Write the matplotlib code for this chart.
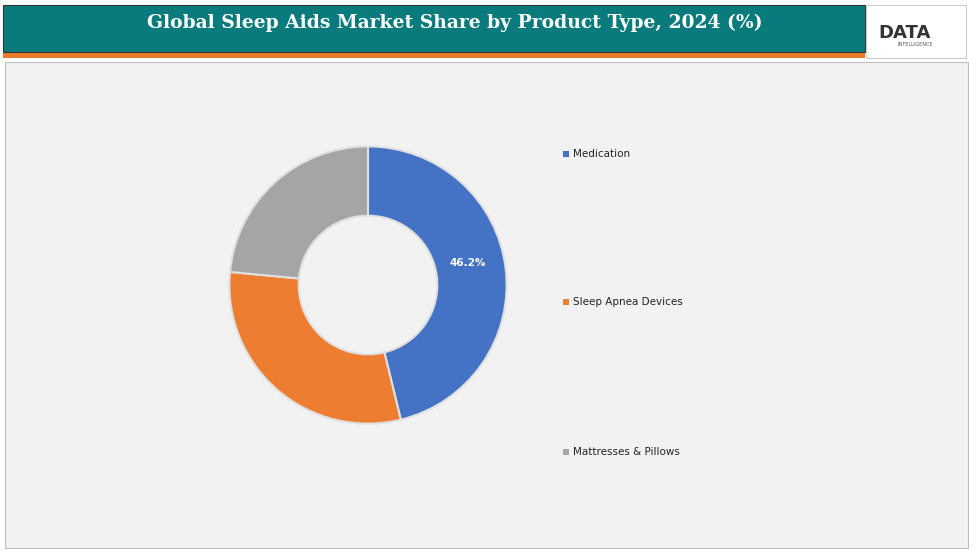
import matplotlib.pyplot as plt
from matplotlib.patches import Rectangle

labels = ['Medication', 'Sleep Apnea Devices', 'Mattresses & Pillows']
shares = [46.2, 30.3, 23.5]
colors = ['#4472C4', '#ED7D31', '#A5A5A5']

fig = plt.figure(figsize=(9.79, 5.52), dpi=100)
W, H = 979, 552

def box(x, y, w, h, **kw):
    fig.patches.append(Rectangle((x / W, 1 - (y + h) / H), w / W, h / H,
                                 transform=fig.transFigure, zorder=0, **kw))

# header
box(3, 5, 862, 47, facecolor='#0A7B7C', edgecolor='#333333', lw=0.8)
box(3, 53, 862, 5, facecolor='#E8782A', edgecolor='none')
box(866, 5, 100, 53, facecolor='white', edgecolor='#cccccc', lw=0.8)
fig.text(455 / W, 1 - 23 / H, 'Global Sleep Aids Market Share by Product Type, 2024 (%)',
         ha='center', va='center', color='white', fontsize=13.5, fontweight='bold',
         family='DejaVu Serif')
fig.text(905 / W, 1 - 33 / H, 'DATA', ha='center', va='center', color='#333333',
         fontsize=13, fontweight='bold')
fig.text(915 / W, 1 - 44 / H, 'INTELLIGENCE', ha='center', va='center', color='#555555',
         fontsize=3.5)
# plot area
box(5, 62, 963, 486, facecolor='#F2F2F2', edgecolor='#BFBFBF', lw=0.8)

ax = fig.add_axes([(368 - 140) / W, 1 - (285 + 140) / H, 280 / W, 280 / H])
ax.set_zorder(5)
ax.patch.set_alpha(0)
wedges, _ = ax.pie(shares, colors=colors, startangle=90, counterclock=False,
                   wedgeprops=dict(width=0.5, edgecolor='#e0e0e0', linewidth=1.5))
ax.text(0.72, 0.16, f'{shares[0]}%', ha='center', va='center', color='white',
        fontsize=7.5, fontweight='bold')
ax.set_xlim(-1.01, 1.01)
ax.set_ylim(-1.01, 1.01)
ax.set_aspect('equal')
ax.axis('off')

for lab, c, y in zip(labels, colors, [154, 302, 452]):
    box(563, y - 3, 6, 6, facecolor=c, edgecolor='none')
    fig.text(573 / W, 1 - y / H, lab, ha='left', va='center', fontsize=7.5,
             color='#222222')

fig.savefig('out.png', dpi=100)
